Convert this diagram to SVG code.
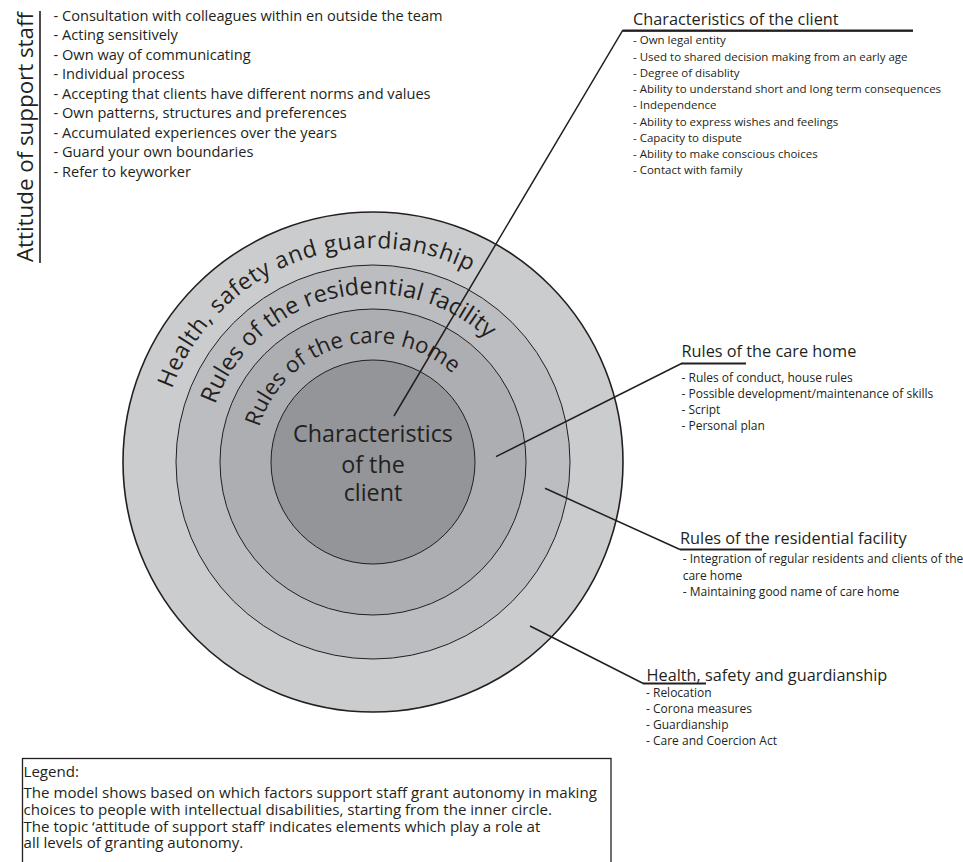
<svg xmlns="http://www.w3.org/2000/svg" width="963" height="862" viewBox="0 0 963 862">
<style>
text{font-family:"Open Sans","Noto Sans","Liberation Sans",sans-serif;fill:#231f20}
.ring{stroke:#231f20;stroke-width:1}
.arc{font-size:23px}
.hd{font-size:16.3px}
.li{font-size:12px}
.li2{font-size:11.5px}
.tl{font-size:14.6px}
.lg{font-size:15.1px}
.con{stroke:#231f20;stroke-width:1.5;fill:none}
.ul{stroke:#231f20;stroke-width:2.2;fill:none}
</style>
<defs>
<path id="p1" d="M171.9,388.8 A214,214 0 0 1 536.9,324.4"/>
<path id="p2" d="M215.1,404.5 A168,168 0 0 1 518.5,378"/>
<path id="p3" d="M259.2,427.2 A119,119 0 0 1 476.1,402.5"/>
</defs>

<g id="attitude">
<text transform="translate(33,262) rotate(-90)" font-size="22.4" textLength="250">Attitude of support staff</text>
<line x1="40" y1="11" x2="40" y2="263" stroke="#231f20" stroke-width="1.6"/>
<text class="tl" x="53.5" y="20.5">- Consultation with colleagues within en outside the team</text>
<text class="tl" x="53.5" y="40">- Acting sensitively</text>
<text class="tl" x="53.5" y="59.5">- Own way of communicating</text>
<text class="tl" x="53.5" y="79">- Individual process</text>
<text class="tl" x="53.5" y="98.5">- Accepting that clients have different norms and values</text>
<text class="tl" x="53.5" y="118">- Own patterns, structures and preferences</text>
<text class="tl" x="53.5" y="137.5">- Accumulated experiences over the years</text>
<text class="tl" x="53.5" y="157">- Guard your own boundaries</text>
<text class="tl" x="53.5" y="176.5">- Refer to keyworker</text>
</g>

<g id="circles">
<g id="ring-health">
<circle cx="373" cy="462" r="250" fill="#cbccce" stroke="#231f20" stroke-width="1.6"/>
<text class="arc" font-size="24.5"><textPath href="#p1" textLength="362" lengthAdjust="spacing">Health, safety and guardianship</textPath></text>
</g>
<g id="ring-residential">
<circle class="ring" cx="373" cy="462" r="197" fill="#bcbdc0"/>
<text class="arc" style="font-size:23.5px"><textPath href="#p2" textLength="331" lengthAdjust="spacing">Rules of the residential facility</textPath></text>
</g>
<g id="ring-carehome">
<circle class="ring" cx="373" cy="462" r="153" fill="#adaeb1"/>
<text class="arc" style="font-size:22.2px"><textPath href="#p3" textLength="239" lengthAdjust="spacing">Rules of the care home</textPath></text>
</g>
<g id="ring-client">
<circle class="ring" cx="373" cy="462" r="102" fill="#939598"/>
<text x="373" y="442.3" font-size="23.3" text-anchor="middle">Characteristics</text>
<text x="373" y="472.5" font-size="23.3" text-anchor="middle">of the</text>
<text x="373" y="501" font-size="23.3" text-anchor="middle">client</text>
</g>
</g>

<g id="connectors">
<polyline class="con" points="394,416 622.5,30.7 913,30.7"/>
<line class="ul" x1="622.5" y1="30.7" x2="913" y2="30.7" stroke-width="1.6"/>
<polyline class="con" points="496,456.7 681.5,363.5"/>
<line class="ul" x1="681" y1="363.5" x2="746" y2="363.5"/>
<polyline class="con" points="545,488.3 680,549.5"/>
<line class="ul" x1="680" y1="549.5" x2="762" y2="549.5"/>
<polyline class="con" points="530,626 643.3,683.5"/>
<line class="ul" x1="643" y1="683.5" x2="706" y2="683.5"/>
</g>

<g id="label-client">
<text class="hd" x="633" y="25">Characteristics of the client</text>
<text class="li2" x="633" y="44.3">- Own legal entity</text>
<text class="li2" x="633" y="60.5">- Used to shared decision making from an early age</text>
<text class="li2" x="633" y="76.8">- Degree of disablity</text>
<text class="li2" x="633" y="93">- Ability to understand short and long term consequences</text>
<text class="li2" x="633" y="109.3">- Independence</text>
<text class="li2" x="633" y="125.5">- Ability to express wishes and feelings</text>
<text class="li2" x="633" y="141.8">- Capacity to dispute</text>
<text class="li2" x="633" y="158">- Ability to make conscious choices</text>
<text class="li2" x="633" y="174.3">- Contact with family</text>
</g>

<g id="label-carehome">
<text class="hd" x="681.5" y="356.7">Rules of the care home</text>
<text class="li" x="681.5" y="381.7">- Rules of conduct, house rules</text>
<text class="li" x="681.5" y="397.9">- Possible development/maintenance of skills</text>
<text class="li" x="681.5" y="414.1">- Script</text>
<text class="li" x="681.5" y="430.3">- Personal plan</text>
</g>

<g id="label-residential">
<text class="hd" x="680" y="544">Rules of the residential facility</text>
<text class="li" x="682.7" y="563.3">- Integration of regular residents and clients of the</text>
<text class="li" x="682.7" y="579.5">care home</text>
<text class="li" x="682.7" y="595.7">- Maintaining good name of care home</text>
</g>

<g id="label-health">
<text class="hd" x="646.5" y="680.7">Health, safety and guardianship</text>
<text class="li" x="646" y="696.7">- Relocation</text>
<text class="li" x="646" y="712.9">- Corona measures</text>
<text class="li" x="646" y="729.1">- Guardianship</text>
<text class="li" x="646" y="745.3">- Care and Coercion Act</text>
</g>

<g id="legend">
<rect x="22.5" y="758.5" width="588.5" height="130" fill="#ffffff" stroke="#231f20" stroke-width="1.3"/>
<text class="lg" x="23.5" y="777.3">Legend:</text>
<text class="lg" x="23.5" y="798.3">The model shows based on which factors support staff grant autonomy in making</text>
<text class="lg" x="23.5" y="815">choices to people with intellectual disabilities, starting from the inner circle.</text>
<text class="lg" x="23.5" y="831.7">The topic ‘attitude of support staff’ indicates elements which play a role at</text>
<text class="lg" x="23.5" y="848.3">all levels of granting autonomy.</text>
</g>
</svg>
